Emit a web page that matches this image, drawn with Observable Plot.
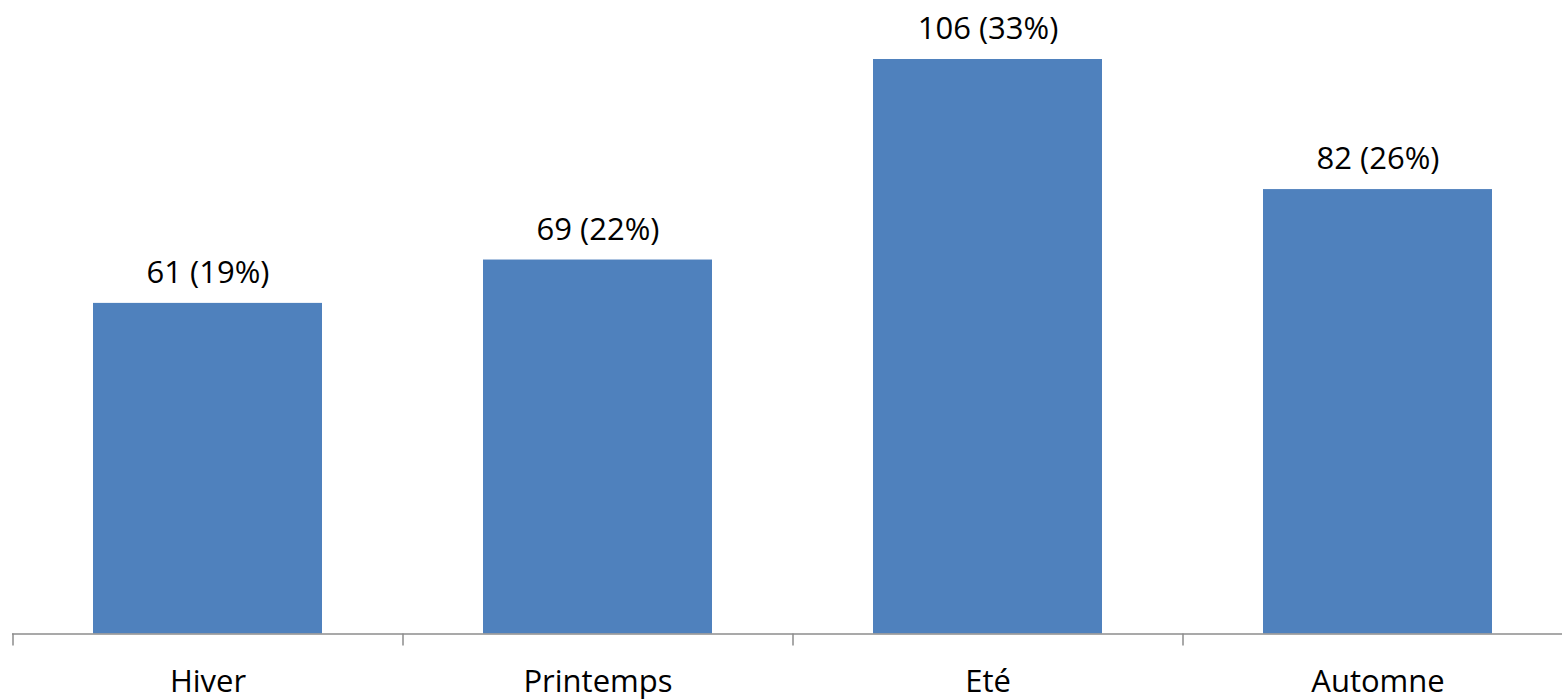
<!DOCTYPE html>
<html>
<head>
<meta charset="utf-8">
<script src="https://cdn.jsdelivr.net/npm/d3@7"></script>
<script src="https://cdn.jsdelivr.net/npm/@observablehq/plot@0.6"></script>
<style>
  html, body { margin: 0; padding: 0; background: #fff; }
  #chart svg { display: block; }
</style>
</head>
<body>
<div id="chart"></div>
<script>
const categories = ["Hiver", "Printemps", "Eté", "Automne"];
const counts = [61, 69, 106, 82];
const percents = [19, 22, 33, 26];

const data = categories.map((c, i) => ({
  season: c,
  count: counts[i],
  label: `${counts[i]} (${percents[i]}%)`
}));

const font = "'Open Sans', 'Noto Sans', sans-serif";

const chart = Plot.plot({
  width: 1562,
  height: 700,
  marginTop: 0,
  marginLeft: 12,
  marginRight: 0,
  marginBottom: 0,
  style: { fontFamily: font, background: "#fff" },
  x: {
    domain: categories,
    range: [12.5, 1572.5],
    paddingInner: 0.413,
    paddingOuter: 0.2065,
    axis: null
  },
  y: {
    domain: [0, d3.max(counts)],
    range: [633.5, 59],
    axis: null
  },
  marks: [
    Plot.barY(data, { x: "season", y: "count", fill: "#4F81BD" }),
    Plot.ruleY([0], { stroke: "#8C8C8C", strokeWidth: 1.5 }),
    Plot.ruleX(categories, {
      x: d => d, dx: -195, y1: 0, y2: 0, insetBottom: -12,
      stroke: "#8C8C8C", strokeWidth: 1.5
    }),
    Plot.text(data, {
      x: "season", y: "count", text: "label", dy: -30,
      fontSize: 31, fill: "#000", fontFamily: font
    }),
    Plot.text(data, {
      x: "season", y: () => 0, text: "season", dy: 48,
      fontSize: 31, fill: "#000", fontFamily: font
    })
  ]
});

document.getElementById("chart").appendChild(chart);
</script>
</body>
</html>
